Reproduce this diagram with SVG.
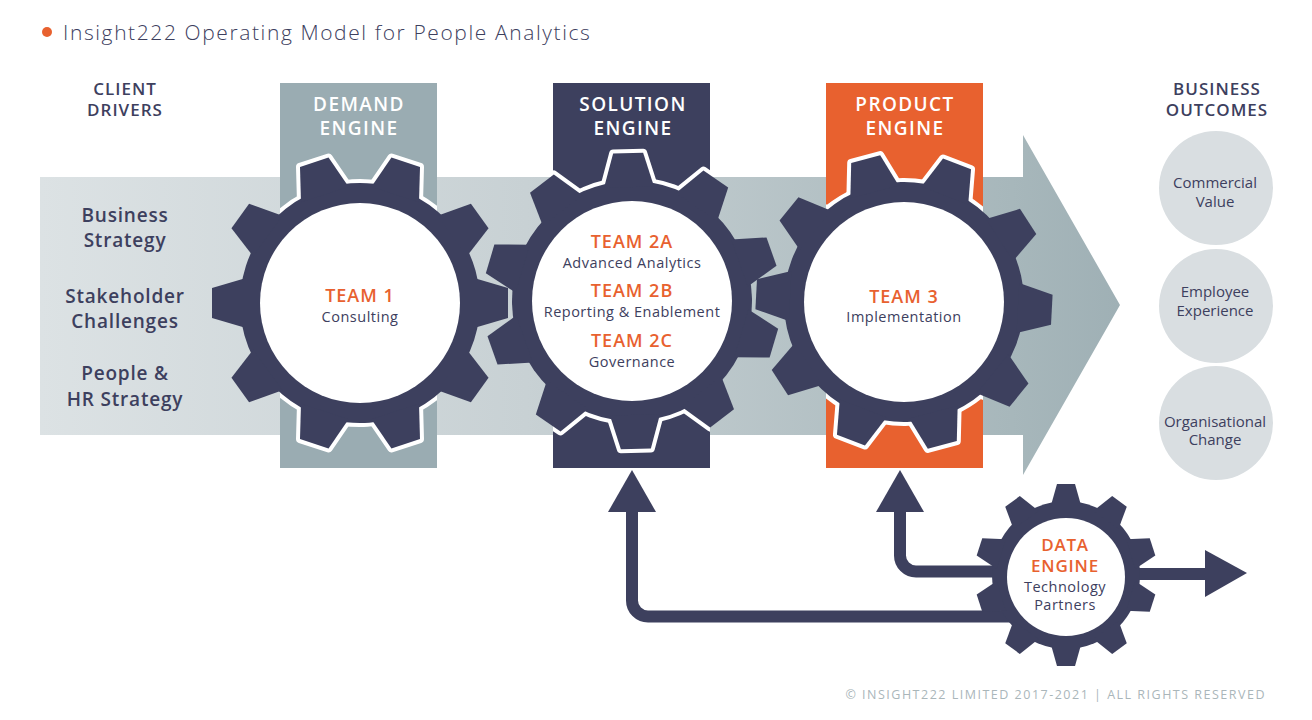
<svg xmlns="http://www.w3.org/2000/svg" xmlns:xlink="http://www.w3.org/1999/xlink" width="1312" height="720" viewBox="0 0 1312 720">
<style>
  text { font-family: "Open Sans", "Liberation Sans", sans-serif; }
  .band-label { font-size: 19px; font-weight: 600; fill: #ffffff; text-anchor: middle; letter-spacing: 1.4px; }
  .head { font-size: 17px; font-weight: 600; fill: #3d405e; text-anchor: middle; letter-spacing: 1px; }
  .driver { font-size: 19px; font-weight: 600; fill: #3d405e; text-anchor: middle; letter-spacing: 0.8px; }
  .team { font-size: 18px; font-weight: 600; fill: #e8612f; text-anchor: middle; letter-spacing: 1px; }
  .sub { font-size: 14.5px; font-weight: 500; fill: #3d405e; text-anchor: middle; letter-spacing: 0.5px; }
  .outcome { font-size: 15px; font-weight: 400; fill: #3d405e; text-anchor: middle; }
  .gearfill { fill: #3d405e; }
  .outline { fill: #ffffff; stroke: #ffffff; stroke-width: 8; stroke-linejoin: round; }
  .conn { fill: none; stroke: #3d405e; stroke-width: 12; }
  .connhead { fill: #3d405e; }
</style>
<defs>
  <linearGradient id="arrowGrad" gradientUnits="userSpaceOnUse" x1="40" y1="0" x2="1120" y2="0">
    <stop offset="0" stop-color="#dce2e4"/>
    <stop offset="0.45" stop-color="#c8d1d4"/>
    <stop offset="0.9" stop-color="#a7b7bb"/>
    <stop offset="1" stop-color="#9fb0b5"/>
  </linearGradient>
  <path id="bigTooth" d="M -25 -114 L -15 -148 L 15 -148 L 25 -114 Z"/>
  <g id="bigGear">
    <circle r="120"/>
    <use xlink:href="#bigTooth"/>
    <use xlink:href="#bigTooth" transform="rotate(36)"/>
    <use xlink:href="#bigTooth" transform="rotate(72)"/>
    <use xlink:href="#bigTooth" transform="rotate(108)"/>
    <use xlink:href="#bigTooth" transform="rotate(144)"/>
    <use xlink:href="#bigTooth" transform="rotate(180)"/>
    <use xlink:href="#bigTooth" transform="rotate(216)"/>
    <use xlink:href="#bigTooth" transform="rotate(252)"/>
    <use xlink:href="#bigTooth" transform="rotate(288)"/>
    <use xlink:href="#bigTooth" transform="rotate(324)"/>
  </g>
  <path id="smallTooth" d="M -15.5 -68 L -9 -91 L 9 -91 L 15.5 -68 Z"/>
  <g id="smallGear">
    <circle r="74"/>
    <use xlink:href="#smallTooth"/>
    <use xlink:href="#smallTooth" transform="rotate(36)"/>
    <use xlink:href="#smallTooth" transform="rotate(72)"/>
    <use xlink:href="#smallTooth" transform="rotate(108)"/>
    <use xlink:href="#smallTooth" transform="rotate(144)"/>
    <use xlink:href="#smallTooth" transform="rotate(180)"/>
    <use xlink:href="#smallTooth" transform="rotate(216)"/>
    <use xlink:href="#smallTooth" transform="rotate(252)"/>
    <use xlink:href="#smallTooth" transform="rotate(288)"/>
    <use xlink:href="#smallTooth" transform="rotate(324)"/>
  </g>
  <clipPath id="clipDemand"><rect x="280" y="83" width="157" height="385"/></clipPath>
  <clipPath id="clipSolution"><rect x="553" y="83" width="157" height="385"/></clipPath>
  <clipPath id="clipProduct"><rect x="826" y="83" width="157" height="385"/></clipPath>
</defs>

<rect width="1312" height="720" fill="#ffffff"/>

<g id="title">
  <circle cx="47" cy="32" r="5" fill="#e8612f"/>
  <text x="63" y="40" style="font-size:21px;font-weight:300;fill:#3d405e;letter-spacing:1.6px">Insight222 Operating Model for People Analytics</text>
</g>

<g id="main-arrow">
  <path d="M 40 177 H 1023 V 135 L 1120 305 L 1023 475 V 435 H 40 Z" fill="url(#arrowGrad)"/>
</g>

<g id="client-drivers">
  <text class="head"><tspan x="125" y="95">CLIENT</tspan><tspan x="125" y="116">DRIVERS</tspan></text>
  <text class="driver"><tspan x="125" y="222">Business</tspan><tspan x="125" y="247">Strategy</tspan></text>
  <text class="driver"><tspan x="125" y="303">Stakeholder</tspan><tspan x="125" y="328">Challenges</tspan></text>
  <text class="driver"><tspan x="125" y="380">People &amp;</tspan><tspan x="125" y="406">HR Strategy</tspan></text>
</g>

<g id="demand-engine">
  <rect x="280" y="83" width="157" height="385" fill="#9aacb2"/>
  <text class="band-label"><tspan x="359" y="111">DEMAND</tspan><tspan x="359" y="135">ENGINE</tspan></text>
  <g clip-path="url(#clipDemand)"><use xlink:href="#bigGear" class="outline" transform="translate(360 303) rotate(18)"/></g>
  <use xlink:href="#bigGear" class="gearfill" transform="translate(360 303) rotate(18)"/>
  <circle cx="360" cy="303" r="100" fill="#ffffff"/>
  <text class="team" x="360" y="302">TEAM 1</text>
  <text class="sub" x="360" y="322">Consulting</text>
</g>

<g id="solution-engine">
  <rect x="553" y="83" width="157" height="385" fill="#3d405e"/>
  <text class="band-label"><tspan x="633" y="111">SOLUTION</tspan><tspan x="633" y="135">ENGINE</tspan></text>
  <g clip-path="url(#clipSolution)"><use xlink:href="#bigGear" class="outline" transform="translate(632 301) rotate(-1.5)"/></g>
  <use xlink:href="#bigGear" class="gearfill" transform="translate(632 301) rotate(-1.5)"/>
  <circle cx="632" cy="301" r="100" fill="#ffffff"/>
  <text class="team" x="632" y="248">TEAM 2A</text>
  <text class="sub" x="632" y="268">Advanced Analytics</text>
  <text class="team" x="632" y="297">TEAM 2B</text>
  <text class="sub" x="632" y="317">Reporting &amp; Enablement</text>
  <text class="team" x="632" y="347">TEAM 2C</text>
  <text class="sub" x="632" y="367">Governance</text>
</g>

<g id="product-engine">
  <rect x="826" y="83" width="157" height="385" fill="#e8612f"/>
  <text class="band-label"><tspan x="905" y="111">PRODUCT</tspan><tspan x="905" y="135">ENGINE</tspan></text>
  <g clip-path="url(#clipProduct)"><use xlink:href="#bigGear" class="outline" transform="translate(904 302) rotate(21)"/></g>
  <use xlink:href="#bigGear" class="gearfill" transform="translate(904 302) rotate(21)"/>
  <circle cx="904" cy="302" r="100" fill="#ffffff"/>
  <text class="team" x="904" y="303">TEAM 3</text>
  <text class="sub" x="904" y="322">Implementation</text>
</g>

<g id="business-outcomes">
  <text class="head"><tspan x="1217" y="95">BUSINESS</tspan><tspan x="1217" y="116">OUTCOMES</tspan></text>
  <circle cx="1216" cy="188" r="57" fill="#d9dee1"/>
  <text class="outcome"><tspan x="1215" y="188">Commercial</tspan><tspan x="1215" y="207">Value</tspan></text>
  <circle cx="1216" cy="306" r="57" fill="#d9dee1"/>
  <text class="outcome"><tspan x="1215" y="297">Employee</tspan><tspan x="1215" y="316">Experience</tspan></text>
  <circle cx="1216" cy="423" r="57" fill="#d9dee1"/>
  <text class="outcome"><tspan x="1215" y="427">Organisational</tspan><tspan x="1215" y="445">Change</tspan></text>
</g>

<g id="connectors">
  <path class="conn" d="M 1020 616.5 H 648 A 16 16 0 0 1 632 600.5 V 508"/>
  <polygon class="connhead" points="608,512 656,512 632,470"/>
  <path class="conn" d="M 1020 571.5 H 916 A 16 16 0 0 1 900 555.5 V 508"/>
  <polygon class="connhead" points="876,512 924,512 900,470"/>
  <path class="conn" d="M 1110 574 H 1208"/>
  <polygon class="connhead" points="1205,550 1205,597 1247,573"/>
</g>

<g id="data-engine">
  <use xlink:href="#smallGear" class="gearfill" transform="translate(1066 575)"/>
  <circle cx="1066" cy="577" r="59" fill="#ffffff"/>
  <text class="team" style="font-size:17px;letter-spacing:0.8px"><tspan x="1065" y="551">DATA</tspan><tspan x="1065" y="572">ENGINE</tspan></text>
  <text class="sub"><tspan x="1065" y="592">Technology</tspan><tspan x="1065" y="610">Partners</tspan></text>
</g>

<g id="footer">
  <text x="1266" y="699" style="font-size:12.5px;font-weight:400;fill:#aab6ba;text-anchor:end;letter-spacing:1.5px">© INSIGHT222 LIMITED 2017-2021 | ALL RIGHTS RESERVED</text>
</g>
</svg>
